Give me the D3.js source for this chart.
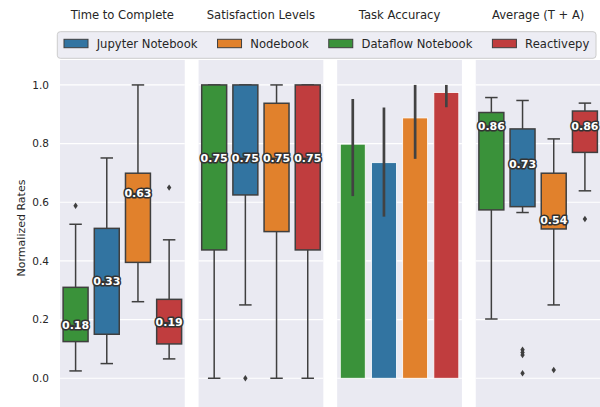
<!DOCTYPE html>
<html>
<head>
<meta charset="utf-8">
<script src="https://cdn.jsdelivr.net/npm/d3@7"></script>
<style>
  html, body { margin: 0; padding: 0; background: #ffffff; }
  svg { display: block; font-family: "DejaVu Sans", sans-serif; }
</style>
</head>
<body>
<svg id="chart" width="600" height="407"></svg>
<script>
// Tools, in plotting order within each panel
const tools = ["Dataflow Notebook", "Jupyter Notebook", "Nodebook", "Reactivepy"];
const legendOrder = ["Jupyter Notebook", "Nodebook", "Dataflow Notebook", "Reactivepy"];
const toolColors = ["#3a923a", "#3274a1", "#e1812c", "#c03d3e"];

const panelTitles = ["Time to Complete", "Satisfaction Levels", "Task Accuracy", "Average (T + A)"];
const yTicks = [0.0, 0.2, 0.4, 0.6, 0.8, 1.0];
const yLabel = "Normalized Rates";

// Box summaries per tool: [whisker low, Q1, median, Q3, whisker high]
const timeToComplete = [
  [0.025, 0.125, 0.18, 0.31, 0.525],
  [0.05, 0.15, 0.33, 0.511, 0.751],
  [0.261, 0.395, 0.63, 0.699, 1.0],
  [0.066, 0.117, 0.19, 0.269, 0.472]
];
const timeOutliers = [[0.588], [], [], [0.65]];

const satisfaction = [
  [0.0, 0.4375, 0.75, 1.0, 1.0],
  [0.25, 0.625, 0.75, 1.0, 1.0],
  [0.0, 0.5, 0.75, 0.9375, 1.0],
  [0.0, 0.4375, 0.75, 1.0, 1.0]
];
const satisfactionOutliers = [[], [0.0], [], []];

// Task accuracy: mean with confidence interval
const accuracyMean = [0.798, 0.735, 0.8875, 0.974];
const accuracyCiLow = [0.621, 0.551, 0.748, 0.924];
const accuracyCiHigh = [0.952, 0.923, 1.0, 1.0];

const average = [
  [0.202, 0.574, 0.86, 0.906, 0.957],
  [0.565, 0.585, 0.73, 0.85, 0.947],
  [0.25, 0.509, 0.54, 0.699, 0.816],
  [0.639, 0.77, 0.86, 0.911, 0.938]
];
const averageOutliers = [[], [0.097, 0.088, 0.079, 0.017], [0.028], [0.543]];

const svg = d3.select("#chart");
const textColor = "#262626";
const edgeColor = "#3f3f3f";
const panelBg = "#eaeaf2";

const panelTop = 60, panelBottom = 407;
const y = d3.scaleLinear().domain([-0.098, 1.085]).range([panelBottom, panelTop]);

const panelX = d3.scaleBand().domain(panelTitles).range([60, 600.5]).paddingInner(0.1);
const color = d3.scaleOrdinal().domain(tools).range(toolColors);

panelTitles.forEach((title, pi) => {
  const x0 = panelX(title);
  const w = panelX.bandwidth();
  const g = svg.append("g");

  g.append("rect").attr("x", x0).attr("y", panelTop)
    .attr("width", w).attr("height", panelBottom - panelTop)
    .attr("fill", panelBg);

  g.selectAll("line.grid").data(yTicks).join("line")
    .attr("class", "grid")
    .attr("x1", x0).attr("x2", x0 + w)
    .attr("y1", d => y(d)).attr("y2", d => y(d))
    .attr("stroke", "#ffffff").attr("stroke-width", 1.2);

  svg.append("text")
    .attr("x", x0 + w / 2).attr("y", 18.7)
    .attr("text-anchor", "middle")
    .attr("font-size", 11.6).attr("fill", textColor)
    .text(title);

  const x = d3.scaleBand().domain(tools).range([x0, x0 + w])
    .paddingInner(0.2).paddingOuter(0.1);

  if (pi === 2) {
    drawBars(g, x);
  } else {
    const stats = pi === 0 ? timeToComplete : pi === 1 ? satisfaction : average;
    const outs = pi === 0 ? timeOutliers : pi === 1 ? satisfactionOutliers : averageOutliers;
    drawBoxes(g, x, stats, outs);
  }
});

function drawBoxes(g, x, stats, outs) {
  const bw = x.bandwidth();
  tools.forEach((t, i) => {
    const [lo, q1, med, q3, hi] = stats[i];
    const cx = x(t) + bw / 2;
    const bg = g.append("g");
    // whiskers
    bg.append("line").attr("x1", cx).attr("x2", cx)
      .attr("y1", y(q3)).attr("y2", y(hi))
      .attr("stroke", edgeColor).attr("stroke-width", 1.5);
    bg.append("line").attr("x1", cx).attr("x2", cx)
      .attr("y1", y(q1)).attr("y2", y(lo))
      .attr("stroke", edgeColor).attr("stroke-width", 1.5);
    [lo, hi].forEach(v => {
      bg.append("line").attr("x1", cx - bw / 4).attr("x2", cx + bw / 4)
        .attr("y1", y(v)).attr("y2", y(v))
        .attr("stroke", edgeColor).attr("stroke-width", 1.5);
    });
    // box
    bg.append("rect")
      .attr("x", x(t)).attr("y", y(q3))
      .attr("width", bw).attr("height", y(q1) - y(q3))
      .attr("fill", color(t))
      .attr("stroke", edgeColor).attr("stroke-width", 1.5);
    // median
    bg.append("line").attr("x1", x(t)).attr("x2", x(t) + bw)
      .attr("y1", y(med)).attr("y2", y(med))
      .attr("stroke", edgeColor).attr("stroke-width", 1.5);
    // outliers
    bg.selectAll("path.flier").data(outs[i]).join("path")
      .attr("class", "flier")
      .attr("d", d => {
        const py = y(d);
        return `M${cx},${py - 3.2}L${cx + 2.2},${py}L${cx},${py + 3.2}L${cx - 2.2},${py}Z`;
      })
      .attr("fill", edgeColor);
  });
  // median labels
  tools.forEach((t, i) => {
    const med = stats[i][2];
    g.append("text")
      .attr("x", x(t) + bw / 2).attr("y", y(med))
      .attr("dy", "0.36em")
      .attr("text-anchor", "middle")
      .attr("font-size", 11).attr("font-weight", "bold")
      .attr("fill", "#ffffff")
      .attr("stroke", "#333333").attr("stroke-width", 3.2)
      .attr("stroke-linejoin", "round")
      .attr("paint-order", "stroke")
      .text(med.toFixed(2));
  });
}

function drawBars(g, x) {
  const bw = x.bandwidth();
  tools.forEach((t, i) => {
    g.append("rect")
      .attr("x", x(t)).attr("y", y(accuracyMean[i]))
      .attr("width", bw).attr("height", y(0) - y(accuracyMean[i]))
      .attr("fill", color(t))
      .attr("stroke", "#ffffff").attr("stroke-width", 0.8);
  });
  tools.forEach((t, i) => {
    const cx = x(t) + bw / 2;
    g.append("line")
      .attr("x1", cx).attr("x2", cx)
      .attr("y1", y(accuracyCiLow[i])).attr("y2", y(accuracyCiHigh[i]))
      .attr("stroke", "#424242").attr("stroke-width", 2.7);
  });
}

// y axis (leftmost panel only)
const yAxis = d3.axisLeft(y).tickValues(yTicks).tickFormat(d3.format(".1f"))
  .tickSize(0).tickPadding(11);
const ya = svg.append("g").attr("transform", "translate(60,0)").call(yAxis);
ya.select(".domain").remove();
ya.selectAll("text").attr("font-size", 10.5).attr("fill", textColor)
  .attr("font-family", "DejaVu Sans, sans-serif");

svg.append("text")
  .attr("transform", "translate(25,228) rotate(-90)")
  .attr("text-anchor", "middle")
  .attr("font-size", 11).attr("fill", textColor)
  .text(yLabel);

// legend
const legend = svg.append("g");
legend.append("rect")
  .attr("x", 57.3).attr("y", 31.7).attr("width", 538.7).attr("height", 26.6)
  .attr("rx", 3)
  .attr("fill", "#eaeaf2").attr("fill-opacity", 0.85)
  .attr("stroke", "#cccccc").attr("stroke-width", 1);
let lx = 64;
legendOrder.forEach(name => {
  legend.append("rect")
    .attr("x", lx).attr("y", 39.3).attr("width", 24).attr("height", 8.4)
    .attr("fill", color(name))
    .attr("stroke", edgeColor).attr("stroke-width", 1);
  const txt = legend.append("text")
    .attr("x", lx + 32.7).attr("y", 47.8)
    .attr("font-size", 11.6).attr("fill", textColor)
    .text(name);
  lx = lx + 32.7 + txt.node().getComputedTextLength() + 20;
});
</script>
</body>
</html>
